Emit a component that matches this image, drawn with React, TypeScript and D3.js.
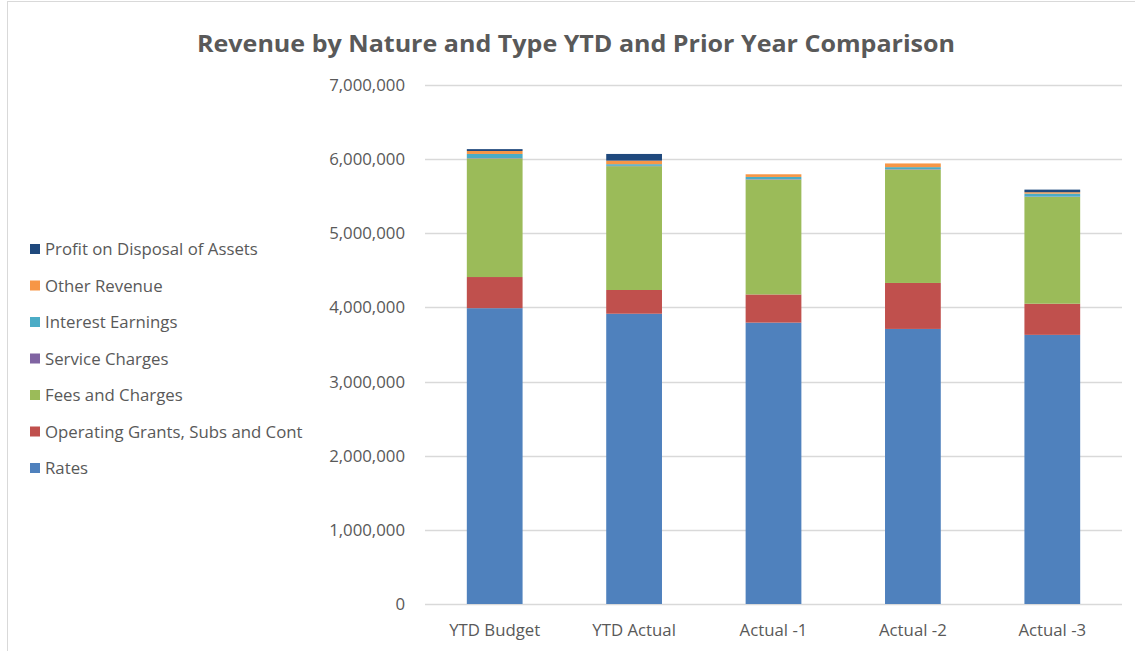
import { useEffect, useRef } from "react";
import * as d3 from "d3";

const categories = ["YTD Budget", "YTD Actual", "Actual -1", "Actual -2", "Actual -3"];
const seriesNames = [
  "Rates",
  "Operating Grants, Subs and Cont",
  "Fees and Charges",
  "Service Charges",
  "Interest Earnings",
  "Other Revenue",
  "Profit on Disposal of Assets",
];
const colors = ["#4F81BD", "#C0504D", "#9BBB59", "#8064A2", "#4BACC6", "#F79646", "#1F497D"];

// values per series, in category order
const rates = [3990000, 3915000, 3795000, 3710000, 3630000];
const grants = [420000, 320000, 380000, 620000, 420000];
const fees = [1600000, 1670000, 1550000, 1530000, 1440000];
const serviceCharges = [5000, 5000, 5000, 5000, 5000];
const interest = [55000, 22000, 30000, 27000, 40000];
const otherRevenue = [40000, 48000, 36000, 50000, 19000];
const profitDisposal = [25000, 90000, 0, 0, 35000];

const yTicks = [0, 1000000, 2000000, 3000000, 4000000, 5000000, 6000000, 7000000];

const W = 1135;
const H = 651;

export default function App() {
  const svgRef = useRef<SVGSVGElement | null>(null);

  useEffect(() => {
    if (!svgRef.current) return;
    const svg = d3.select(svgRef.current);
    svg.selectAll("*").remove();

    const font = "Open Sans, Lato, sans-serif";
    const textColor = "#595959";

    const seriesData = [rates, grants, fees, serviceCharges, interest, otherRevenue, profitDisposal];
    const rows = categories.map((c, i) => {
      const r: any = { cat: c };
      seriesNames.forEach((s, j) => (r[s] = seriesData[j][i]));
      return r;
    });
    const stacked = d3.stack().keys(seriesNames)(rows);

    const left = 425, right = 1122, top = 85, bottom = 604;

    const x = d3.scaleBand().domain(categories).range([left, right]).paddingInner(0.6).paddingOuter(0.3);
    const y = d3.scaleLinear().domain([0, 7000000]).range([bottom, top]);

    // border
    svg.append("rect")
      .attr("x", 7.5).attr("y", 1.5)
      .attr("width", W + 10).attr("height", H + 10)
      .attr("fill", "white").attr("stroke", "#D9D9D9");

    // title
    svg.append("text")
      .attr("x", 576).attr("y", 52)
      .attr("text-anchor", "middle")
      .attr("font-family", font)
      .attr("font-size", 24)
      .attr("font-weight", "bold")
      .attr("fill", textColor)
      .attr("textLength", 758)
      .attr("lengthAdjust", "spacingAndGlyphs")
      .text("Revenue by Nature and Type YTD and Prior Year Comparison");

    // gridlines
    svg.append("g")
      .selectAll("line")
      .data(yTicks)
      .enter()
      .append("line")
      .attr("x1", left).attr("x2", right)
      .attr("y1", d => Math.round(y(d)) + 0.5)
      .attr("y2", d => Math.round(y(d)) + 0.5)
      .attr("stroke", "#D9D9D9")
      .attr("stroke-width", 1.3);

    // y labels
    svg.append("g")
      .selectAll("text")
      .data(yTicks)
      .enter()
      .append("text")
      .attr("x", 405)
      .attr("y", d => y(d) + 6)
      .attr("text-anchor", "end")
      .attr("font-family", font)
      .attr("font-size", 16.8)
      .attr("fill", textColor)
      .text(d => d3.format(",")(d));

    // bars
    svg.append("g")
      .selectAll("g")
      .data(stacked)
      .enter()
      .append("g")
      .attr("fill", (_d, i) => colors[i])
      .selectAll("rect")
      .data(d => d)
      .enter()
      .append("rect")
      .attr("x", d => x((d.data as any).cat)!)
      .attr("width", x.bandwidth())
      .attr("y", d => y(d[1]))
      .attr("height", d => Math.max(0, y(d[0]) - y(d[1])));

    // x labels
    svg.append("g")
      .selectAll("text")
      .data(categories)
      .enter()
      .append("text")
      .attr("x", d => x(d)! + x.bandwidth() / 2)
      .attr("y", 636)
      .attr("text-anchor", "middle")
      .attr("font-family", font)
      .attr("font-size", 16.8)
      .attr("fill", textColor)
      .text(d => d);

    // legend, reversed order
    const legendItems = seriesNames.map((s, i) => ({ name: s, color: colors[i] })).reverse();
    const lg = svg.append("g")
      .selectAll("g")
      .data(legendItems)
      .enter()
      .append("g")
      .attr("transform", (_d, i) => `translate(30, ${249 + i * 36.5})`);
    lg.append("rect")
      .attr("x", 0).attr("y", -5)
      .attr("width", 10).attr("height", 10)
      .attr("fill", d => d.color);
    lg.append("text")
      .attr("x", 15).attr("y", 6)
      .attr("font-family", font)
      .attr("font-size", 16.8)
      .attr("fill", textColor)
      .text(d => d.name);
  }, []);

  return (
    <svg
      ref={svgRef}
      width={W}
      height={H}
      style={{ position: "absolute", left: 0, top: 0, background: "white" }}
    />
  );
}
